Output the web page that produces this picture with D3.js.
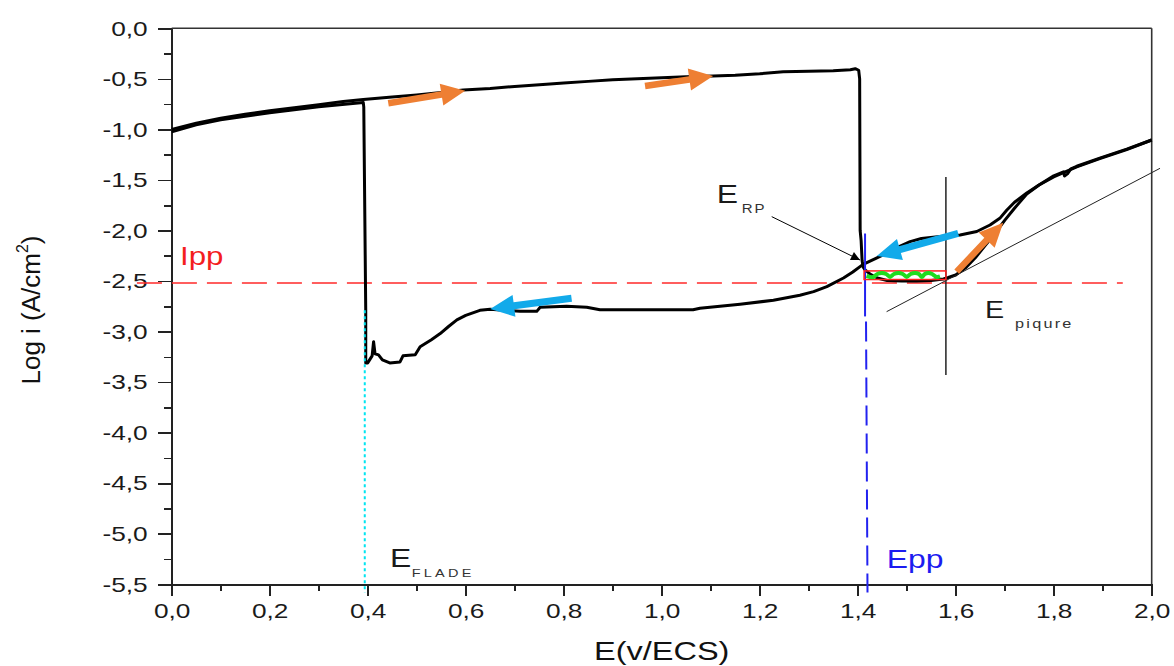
<!DOCTYPE html>
<html>
<head>
<meta charset="utf-8" />
<title>Polarisation cyclique</title>
<script src="https://d3js.org/d3.v7.min.js"></script>
<style>
  body { margin: 0; background: #fff; }
  svg { display: block; font-family: "Liberation Sans", Arial, sans-serif; }
  .curve { fill: none; stroke: #000; stroke-width: 3; stroke-linejoin: round; }
  .axis path, .axis line { stroke: #222; stroke-width: 1.6; shape-rendering: crispEdges; }
  .axis text { font-size: 21px; fill: #1a1a1a; }
</style>
</head>
<body>
<div id="chart"></div>
<script>
// forward scan (aller)
const fwdE = [0, 0.05, 0.1, 0.15, 0.2, 0.25, 0.3, 0.35, 0.391, 0.45, 0.5, 0.55, 0.595, 0.65, 0.7, 0.772, 0.8, 0.85, 0.9, 0.95, 1.0, 1.05, 1.105, 1.15, 1.2, 1.248, 1.3, 1.35, 1.385, 1.395, 1.402, 1.404, 1.405, 1.407, 1.409, 1.411, 1.415, 1.425, 1.44, 1.46, 1.49, 1.52, 1.55, 1.575, 1.585, 1.6, 1.62, 1.64, 1.66, 1.68, 1.7, 1.72, 1.745, 1.77, 1.8, 1.847, 1.894, 1.949, 2.0];
const fwdLogI = [-1.0, -0.94, -0.89, -0.85, -0.815, -0.785, -0.755, -0.725, -0.705, -0.68, -0.66, -0.635, -0.61, -0.595, -0.575, -0.55, -0.54, -0.525, -0.51, -0.5, -0.49, -0.48, -0.472, -0.465, -0.45, -0.43, -0.425, -0.42, -0.41, -0.4, -0.415, -0.5, -2.0, -2.1, -2.3, -2.36, -2.39, -2.43, -2.47, -2.495, -2.5, -2.5, -2.495, -2.48, -2.465, -2.44, -2.37, -2.27, -2.15, -2.03, -1.9, -1.78, -1.64, -1.55, -1.47, -1.37, -1.29, -1.2, -1.105];

// reverse scan (retour)
const revE = [2.0, 1.949, 1.894, 1.847, 1.835, 1.828, 1.822, 1.82, 1.8, 1.77, 1.745, 1.72, 1.704, 1.69, 1.67, 1.643, 1.609, 1.568, 1.53, 1.507, 1.48, 1.459, 1.435, 1.411, 1.39, 1.371, 1.337, 1.31, 1.282, 1.228, 1.16, 1.078, 1.064, 0.956, 0.874, 0.847, 0.806, 0.752, 0.745, 0.711, 0.65, 0.629, 0.6, 0.582, 0.565, 0.548, 0.53, 0.507, 0.497, 0.472, 0.466, 0.445, 0.43, 0.422, 0.415, 0.412, 0.409, 0.4, 0.396, 0.396, 0.392, 0.391, 0.3, 0.2, 0.1, 0.05, 0];
const revLogI = [-1.105, -1.195, -1.285, -1.365, -1.39, -1.44, -1.46, -1.42, -1.46, -1.55, -1.63, -1.72, -1.8, -1.88, -1.946, -2.01, -2.045, -2.06, -2.08, -2.11, -2.17, -2.225, -2.28, -2.335, -2.41, -2.47, -2.556, -2.605, -2.64, -2.69, -2.73, -2.77, -2.785, -2.785, -2.785, -2.76, -2.75, -2.76, -2.8, -2.8, -2.78, -2.79, -2.84, -2.885, -2.95, -3.02, -3.08, -3.15, -3.23, -3.24, -3.3, -3.31, -3.28, -3.23, -3.22, -3.1, -3.24, -3.31, -3.31, -2.8, -0.78, -0.735, -0.775, -0.835, -0.905, -0.955, -1.025];

// axis ticks
const xTicks = [0, 0.2, 0.4, 0.6, 0.8, 1.0, 1.2, 1.4, 1.6, 1.8, 2.0];
const xMinor = [0.1, 0.3, 0.5, 0.7, 0.9, 1.1, 1.3, 1.5, 1.7, 1.9];
const yTicks = [0, -0.5, -1.0, -1.5, -2.0, -2.5, -3.0, -3.5, -4.0, -4.5, -5.0, -5.5];
const yMinor = [-0.25, -0.75, -1.25, -1.75, -2.25, -2.75, -3.25, -3.75, -4.25, -4.75, -5.25];

// characteristic values
const eFlade = 0.394;
const ePP = 1.417;
const ePiqure = 1.58;
const logIpp = -2.52;

// green oscillation in the box (E, log i)
const waveE = [1.418, 1.425, 1.432, 1.44, 1.449, 1.458, 1.466, 1.474, 1.483, 1.492, 1.5, 1.508, 1.517, 1.525, 1.531, 1.537, 1.544, 1.552, 1.561, 1.568];
const waveLogI = [-2.45, -2.46, -2.46, -2.43, -2.42, -2.43, -2.46, -2.43, -2.42, -2.43, -2.46, -2.43, -2.42, -2.43, -2.46, -2.43, -2.42, -2.43, -2.46, -2.455];

// arrows : [E tail, logi tail, E tip, logi tip]
const orangeArrows = [
  [0.442, -0.742, 0.599, -0.617],
  [0.966, -0.571, 1.105, -0.472],
  [1.602, -2.407, 1.697, -1.923]
];
const blueArrows = [
  [0.816, -2.671, 0.65, -2.776],
  [1.605, -2.028, 1.439, -2.252]
];

const margin = { top: 28.3, right: 22.3, bottom: 81.7, left: 171.7 };
const W = 1174, H = 666;
const width = W - margin.left - margin.right;
const height = H - margin.top - margin.bottom;
const SX = 1.25; // horizontal stretch of the text

const x = d3.scaleLinear().domain([0, 2]).range([0, width]);
const y = d3.scaleLinear().domain([0, -5.5]).range([0, height]);
const fmt = (d) => d3.format(".1f")(d).replace(".", ",").replace("−", "-");

const svg = d3.select("#chart").append("svg").attr("width", W).attr("height", H);
const g = svg.append("g").attr("transform", `translate(${margin.left},${margin.top})`);

// frame top / right
g.append("line").attr("x1", 0).attr("x2", width).attr("y1", 0).attr("y2", 0)
  .attr("stroke", "#333").attr("stroke-width", 1.6);
g.append("line").attr("x1", width).attr("x2", width).attr("y1", 0).attr("y2", height)
  .attr("stroke", "#333").attr("stroke-width", 1.6);

// axes
g.append("g").attr("class", "axis").attr("transform", `translate(0,${height})`)
  .call(d3.axisBottom(x).tickValues(xMinor).tickSize(7).tickSizeOuter(0).tickFormat(""));
const xAx = g.append("g").attr("class", "axis").attr("transform", `translate(0,${height})`)
  .call(d3.axisBottom(x).tickValues(xTicks).tickSize(12).tickSizeOuter(0).tickFormat(fmt));
xAx.selectAll(".tick text").attr("y", 19).attr("transform", `scale(${SX},1)`);

g.append("g").attr("class", "axis")
  .call(d3.axisLeft(y).tickValues(yMinor).tickSize(8).tickSizeOuter(0).tickFormat(""));
const yAx = g.append("g").attr("class", "axis")
  .call(d3.axisLeft(y).tickValues(yTicks).tickSize(14).tickSizeOuter(0).tickFormat(fmt));
yAx.selectAll(".tick text").attr("x", -24 / SX).attr("transform", `scale(${SX},1)`);

// axis titles
svg.append("text")
  .attr("transform", `translate(${margin.left + width / 2},660) scale(${SX},1)`)
  .attr("text-anchor", "middle").attr("font-size", 26).attr("fill", "#111")
  .text("E(v/ECS)");
const yt = svg.append("text")
  .attr("transform", "translate(40,310) rotate(-90)")
  .attr("text-anchor", "middle").attr("font-size", 26).attr("fill", "#111");
yt.append("tspan").text("Log i (A/cm");
yt.append("tspan").attr("font-size", 16).attr("dy", -12).text("2");
yt.append("tspan").attr("dy", 12).text(")");

// Ipp dashed line
g.append("line")
  .attr("x1", x(-0.071)).attr("x2", x(1.941))
  .attr("y1", y(logIpp)).attr("y2", y(logIpp))
  .attr("stroke", "#ff2a2a").attr("stroke-width", 1.5).attr("stroke-dasharray", "25,10");

// curves
const line = d3.line().x((d) => x(d[0])).y((d) => y(d[1]));
const fwd = fwdE.map((e, i) => [e, fwdLogI[i]]);
const rev = revE.map((e, i) => [e, revLogI[i]]);
g.append("path").datum(fwd).attr("class", "curve").attr("d", line);
g.append("path").datum(rev).attr("class", "curve").attr("d", line);

// Flade (cyan dotted) and Epp (blue dashed)
g.append("line")
  .attr("x1", x(eFlade)).attr("x2", x(eFlade)).attr("y1", y(-2.79)).attr("y2", y(-5.58))
  .attr("stroke", "#00e4f0").attr("stroke-width", 2).attr("stroke-dasharray", "3,3");
g.append("line")
  .attr("x1", x(ePP - 0.002)).attr("x2", x(ePP - 0.002)).attr("y1", y(-2.03)).attr("y2", y(-2.85))
  .attr("stroke", "#2222f0").attr("stroke-width", 2);
g.append("line")
  .attr("x1", x(ePP)).attr("x2", x(ePP + 0.003)).attr("y1", y(-2.9)).attr("y2", y(-5.58))
  .attr("stroke", "#2222f0").attr("stroke-width", 2).attr("stroke-dasharray", "20,8");

// pitting construction
g.append("line")
  .attr("x1", x(ePiqure)).attr("x2", x(ePiqure)).attr("y1", y(-1.47)).attr("y2", y(-3.43))
  .attr("stroke", "#222").attr("stroke-width", 1.5);
g.append("line")
  .attr("x1", x(1.459)).attr("x2", x(2.017)).attr("y1", y(-2.803)).attr("y2", y(-1.385))
  .attr("stroke", "#222").attr("stroke-width", 1);

// red box + green wave
g.append("rect")
  .attr("x", x(1.413)).attr("y", y(-2.4))
  .attr("width", x(1.58) - x(1.413)).attr("height", y(-2.485) - y(-2.4))
  .attr("fill", "none").attr("stroke", "#ff2020").attr("stroke-width", 1.5);
g.append("path")
  .datum(waveE.map((e, i) => [e, waveLogI[i]]))
  .attr("d", line.curve(d3.curveCatmullRom))
  .attr("fill", "none").attr("stroke", "#1fdc1f").attr("stroke-width", 4);
line.curve(d3.curveLinear);

// block arrows
function arrowPoly(a, shaft, headW, headL) {
  const x1 = x(a[0]), y1 = y(a[1]), x2 = x(a[2]), y2 = y(a[3]);
  const len = Math.hypot(x2 - x1, y2 - y1);
  const ux = (x2 - x1) / len, uy = (y2 - y1) / len;
  const nx = -uy, ny = ux;
  const bx = x2 - ux * headL, by = y2 - uy * headL;
  const p = [
    [x1 + nx * shaft / 2, y1 + ny * shaft / 2],
    [bx + nx * shaft / 2, by + ny * shaft / 2],
    [bx + nx * headW / 2, by + ny * headW / 2],
    [x2, y2],
    [bx - nx * headW / 2, by - ny * headW / 2],
    [bx - nx * shaft / 2, by - ny * shaft / 2],
    [x1 - nx * shaft / 2, y1 - ny * shaft / 2]
  ];
  return p.map((q) => q.join(",")).join(" ");
}
g.selectAll(".arr-o").data(orangeArrows).join("polygon")
  .attr("points", (d) => arrowPoly(d, 6.5, 22, 24)).attr("fill", "#ee7f33");
g.selectAll(".arr-b").data(blueArrows).join("polygon")
  .attr("points", (d) => arrowPoly(d, 7, 22, 24)).attr("fill", "#12aaea");

// E_RP pointer
svg.append("defs").append("marker")
  .attr("id", "head").attr("viewBox", "0 0 10 10").attr("refX", 10).attr("refY", 5)
  .attr("markerWidth", 14).attr("markerHeight", 9).attr("markerUnits", "userSpaceOnUse")
  .attr("orient", "auto")
  .append("path").attr("d", "M0,0 L10,5 L0,10 z").attr("fill", "#000");
g.append("line")
  .attr("x1", x(1.2245)).attr("y1", y(-1.863)).attr("x2", x(1.4047)).attr("y2", y(-2.292))
  .attr("stroke", "#000").attr("stroke-width", 1).attr("marker-end", "url(#head)");

// labels
function label(px, py, txt, size, color, spacing) {
  svg.append("text")
    .attr("transform", `translate(${px},${py}) scale(${SX},1)`)
    .attr("font-size", size).attr("fill", color)
    .attr("letter-spacing", spacing || 0)
    .text(txt);
}
label(180, 265, "Ipp", 25, "#f41e1e");
label(716.7, 203.3, "E", 25.5, "#1a1a1a");
label(741.7, 213.3, "RP", 12, "#333", 1.5);
label(985, 318.3, "E", 23, "#1a1a1a");
label(1015, 328, "piqure", 13, "#333", 1.8);
label(390, 566.7, "E", 25.5, "#1a1a1a");
label(411.7, 576.7, "FLADE", 11.6, "#333", 2.6);
label(886.7, 568.3, "Epp", 25.5, "#1c1cf0");
</script>
</body>
</html>
